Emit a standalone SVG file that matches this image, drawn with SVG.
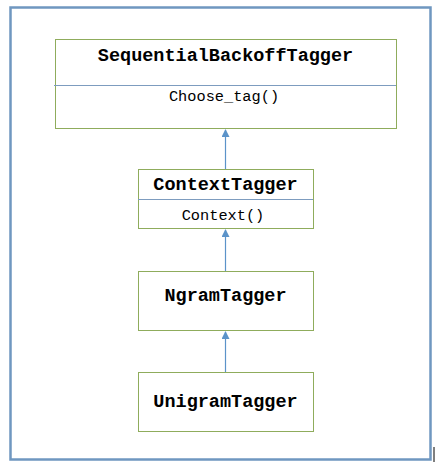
<svg xmlns="http://www.w3.org/2000/svg" width="444" height="473" viewBox="0 0 444 473">
<style>
.box{fill:#ffffff;stroke:#8fac5c;stroke-width:1}
.div{stroke:#7d9cbf;stroke-width:1}
.title{font-family:"Liberation Mono",monospace;font-weight:bold;font-size:18.5px;fill:#000;text-anchor:middle}
.meth{font-family:"Liberation Mono",monospace;font-size:15.3px;fill:#000;text-anchor:middle}
.conn{stroke:#5b93c9;stroke-width:1.2;fill:none}
</style>
<defs>
<marker id="arr" markerWidth="8" markerHeight="8" refX="7" refY="4" orient="auto" markerUnits="userSpaceOnUse">
<path d="M0,0 L8,4 L0,8 Z" fill="#5b93c9"/>
</marker>
</defs>
<rect x="0" y="0" width="444" height="473" fill="#ffffff"/>
<rect x="10.5" y="7.5" width="420" height="452" fill="none" stroke="#6f97c0" stroke-width="2.5"/>
<line x1="434" y1="447" x2="434" y2="462" stroke="#000" stroke-width="1"/>
<g id="connectors">
<line class="conn" x1="225.5" y1="169" x2="225.5" y2="130" marker-end="url(#arr)"/>
<line class="conn" x1="225.5" y1="271" x2="225.5" y2="230" marker-end="url(#arr)"/>
<line class="conn" x1="225.5" y1="372" x2="225.5" y2="332" marker-end="url(#arr)"/>
</g>
<g id="SequentialBackoffTagger">
<rect class="box" x="55.5" y="39.5" width="341" height="89"/>
<line class="div" x1="54" y1="85.5" x2="396" y2="85.5"/>
<text class="title" x="225.5" y="61">SequentialBackoffTagger</text>
<text class="meth" x="224" y="101">Choose_tag()</text>
</g>
<g id="ContextTagger">
<rect class="box" x="138.5" y="169.5" width="175" height="59"/>
<line class="div" x1="138" y1="199.5" x2="313" y2="199.5"/>
<text class="title" x="225.5" y="190">ContextTagger</text>
<text class="meth" x="223" y="220">Context()</text>
</g>
<g id="NgramTagger">
<rect class="box" x="138.5" y="271.5" width="175" height="59"/>
<text class="title" x="225.5" y="301">NgramTagger</text>
</g>
<g id="UnigramTagger">
<rect class="box" x="138.5" y="372.5" width="175" height="59"/>
<text class="title" x="225.5" y="407">UnigramTagger</text>
</g>
</svg>
